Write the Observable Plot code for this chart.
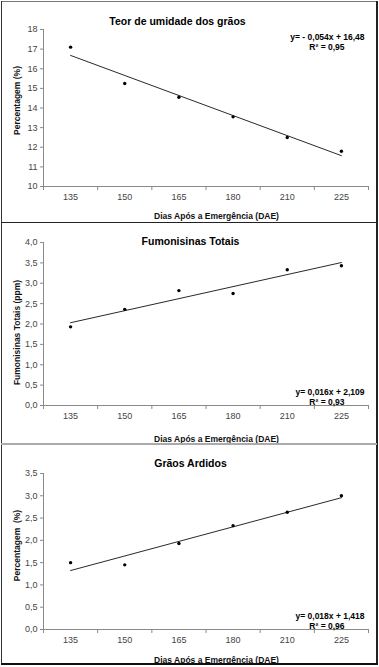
<!DOCTYPE html>
<html><head><meta charset="utf-8">
<script src="https://cdn.jsdelivr.net/npm/d3@7"></script>
<script src="https://cdn.jsdelivr.net/npm/@observablehq/plot@0.6"></script>
<style>
body{margin:0;background:#fff}
#c{position:relative;width:379px;height:667px;font-family:"Liberation Sans",Arial,sans-serif;overflow:hidden}
.p{position:absolute;left:0}
.b{position:absolute}
</style>
</head><body><div id="c"></div>
<script>
// Categories (Dias Após a Emergência)
const dias = ["135", "150", "165", "180", "210", "225"];
// Series values
const umidade = [17.1, 15.25, 14.55, 13.55, 12.5, 11.8];
const fumonisinas = [1.93, 2.36, 2.82, 2.75, 3.33, 3.43];
const ardidos = [1.5, 1.45, 1.93, 2.33, 2.63, 3.0];
// Tick labels
const ticksUmidade = [10, 11, 12, 13, 14, 15, 16, 17, 18];
const ticksFumonisinas = [0, 0.5, 1, 1.5, 2, 2.5, 3, 3.5, 4];
const ticksArdidos = [0, 0.5, 1, 1.5, 2, 2.5, 3, 3.5];
// Texts
const titles = ["Teor de umidade dos grãos", "Fumonisinas Totais", "Grãos Ardidos"];
const yTitles = ["Percentagem (%)", "Fumonisinas Totais (ppm)", "Percentagem  (%)"];
const xTitle = "Dias Após a Emergência (DAE)";
const equations = [["y= - 0,054x + 16,48", "R² = 0,95"], ["y= 0,016x + 2,109", "R² = 0,93"], ["y= 0,018x + 1,418", "R² = 0,96"]];

const FONT = '"Liberation Sans", Arial, sans-serif';

function panel(cfg) {
  const {values, ticks, fmt, top, height, mt, mb, title, titleX, titleY, yTitle, yTitleY, eq, eqY, xTitleY} = cfg;
  const ml = 43, mr = 11;
  const data = values.map((v, i) => ({i: i + 1, v}));
  const at = (x, y) => ({frameAnchor: "top-left", dx: x - ml, dy: y - mt});
  const chart = Plot.plot({
    width: 379, height, marginLeft: ml, marginRight: mr, marginTop: mt, marginBottom: mb,
    style: {fontFamily: FONT, fontSize: "9px", background: "transparent", overflow: "visible"},
    x: {type: "linear", domain: [0.5, 6.5], axis: null},
    y: {domain: [ticks[0], ticks[ticks.length - 1]], axis: null},
    marks: [
      Plot.ruleY([ticks[0]], {stroke: "#8a8a8a"}),
      Plot.ruleX([0.5], {stroke: "#8a8a8a"}),
      Plot.axisX(d3.range(0.5, 7, 1), {tickSize: 4, stroke: "#8a8a8a", tickFormat: () => "", label: null}),
      Plot.axisX(d3.range(1, 7), {tickSize: 0, tickPadding: 7, tickFormat: i => dias[i - 1], fill: "#444", label: null}),
      Plot.axisY(ticks, {tickSize: 3, tickPadding: 3, stroke: "#8a8a8a", fill: "#444", tickFormat: fmt, label: null}),
      Plot.linearRegressionY(data, {x: "i", y: "v", ci: 0, stroke: "#111", strokeWidth: 0.9}),
      Plot.dot(data, {x: "i", y: "v", r: 1.7, fill: "#000", stroke: "none"}),
      Plot.text([title], {...at(titleX, titleY), fontWeight: "bold", fontSize: 10.5, fill: "#000", textAnchor: "middle"}),
      Plot.text([xTitle], {...at(216, xTitleY), fontWeight: "bold", fontSize: 8.5, fill: "#111", textAnchor: "middle"}),
      Plot.text([yTitle], {...at(13, yTitleY), rotate: -90, fontWeight: "bold", fontSize: 8.5, fill: "#111", textAnchor: "middle"}),
      Plot.text([eq[0]], {...at(364, eqY), fontWeight: "bold", fontSize: 8.5, fill: "#000", textAnchor: "end"}),
      Plot.text([eq[1]], {...at(344, eqY + 10), fontWeight: "bold", fontSize: 8.5, fill: "#000", textAnchor: "end"})
    ]
  });
  chart.classList.add("p");
  chart.style.top = top + "px";
  return chart;
}

const fmtInt = d => String(d);
const fmtDec = d => d.toFixed(1).replace(".", ",");
const c = document.getElementById("c");

c.appendChild(panel({values: umidade, ticks: ticksUmidade, fmt: fmtInt, top: 0, height: 222, mt: 29, mb: 36,
  title: titles[0], titleX: 177, titleY: 17, yTitle: yTitles[0], yTitleY: 100, eq: equations[0], eqY: 33, xTitleY: 212}));
c.appendChild(panel({values: fumonisinas, ticks: ticksFumonisinas, fmt: fmtDec, top: 222, height: 222, mt: 20, mb: 39,
  title: titles[1], titleX: 190, titleY: 15, yTitle: yTitles[1], yTitleY: 110, eq: equations[1], eqY: 166, xTitleY: 213}));
c.appendChild(panel({values: ardidos, ticks: ticksArdidos, fmt: fmtDec, top: 444, height: 220, mt: 29, mb: 35,
  title: titles[2], titleX: 190, titleY: 15, yTitle: yTitles[2], yTitleY: 101, eq: equations[2], eqY: 168, xTitleY: 212}));

// Panel borders
const borders = [
  {left: 1, top: 1, width: 376, height: 1, bg: "#777"},
  {left: 1, top: 1, width: 1, height: 663, bg: "#333"},
  {left: 376, top: 1, width: 2, height: 663, bg: "#222"},
  {left: 1, top: 663, width: 377, height: 2, bg: "#111"},
  {left: 1, top: 222, width: 376, height: 1, bg: "#222"},
  {left: 1, top: 443, width: 376, height: 2, bg: "#aaa"}
];
for (const b of borders) {
  const d = document.createElement("div");
  d.className = "b";
  Object.assign(d.style, {left: b.left + "px", top: b.top + "px", width: b.width + "px", height: b.height + "px", background: b.bg});
  c.appendChild(d);
}
</script>
</body></html>
